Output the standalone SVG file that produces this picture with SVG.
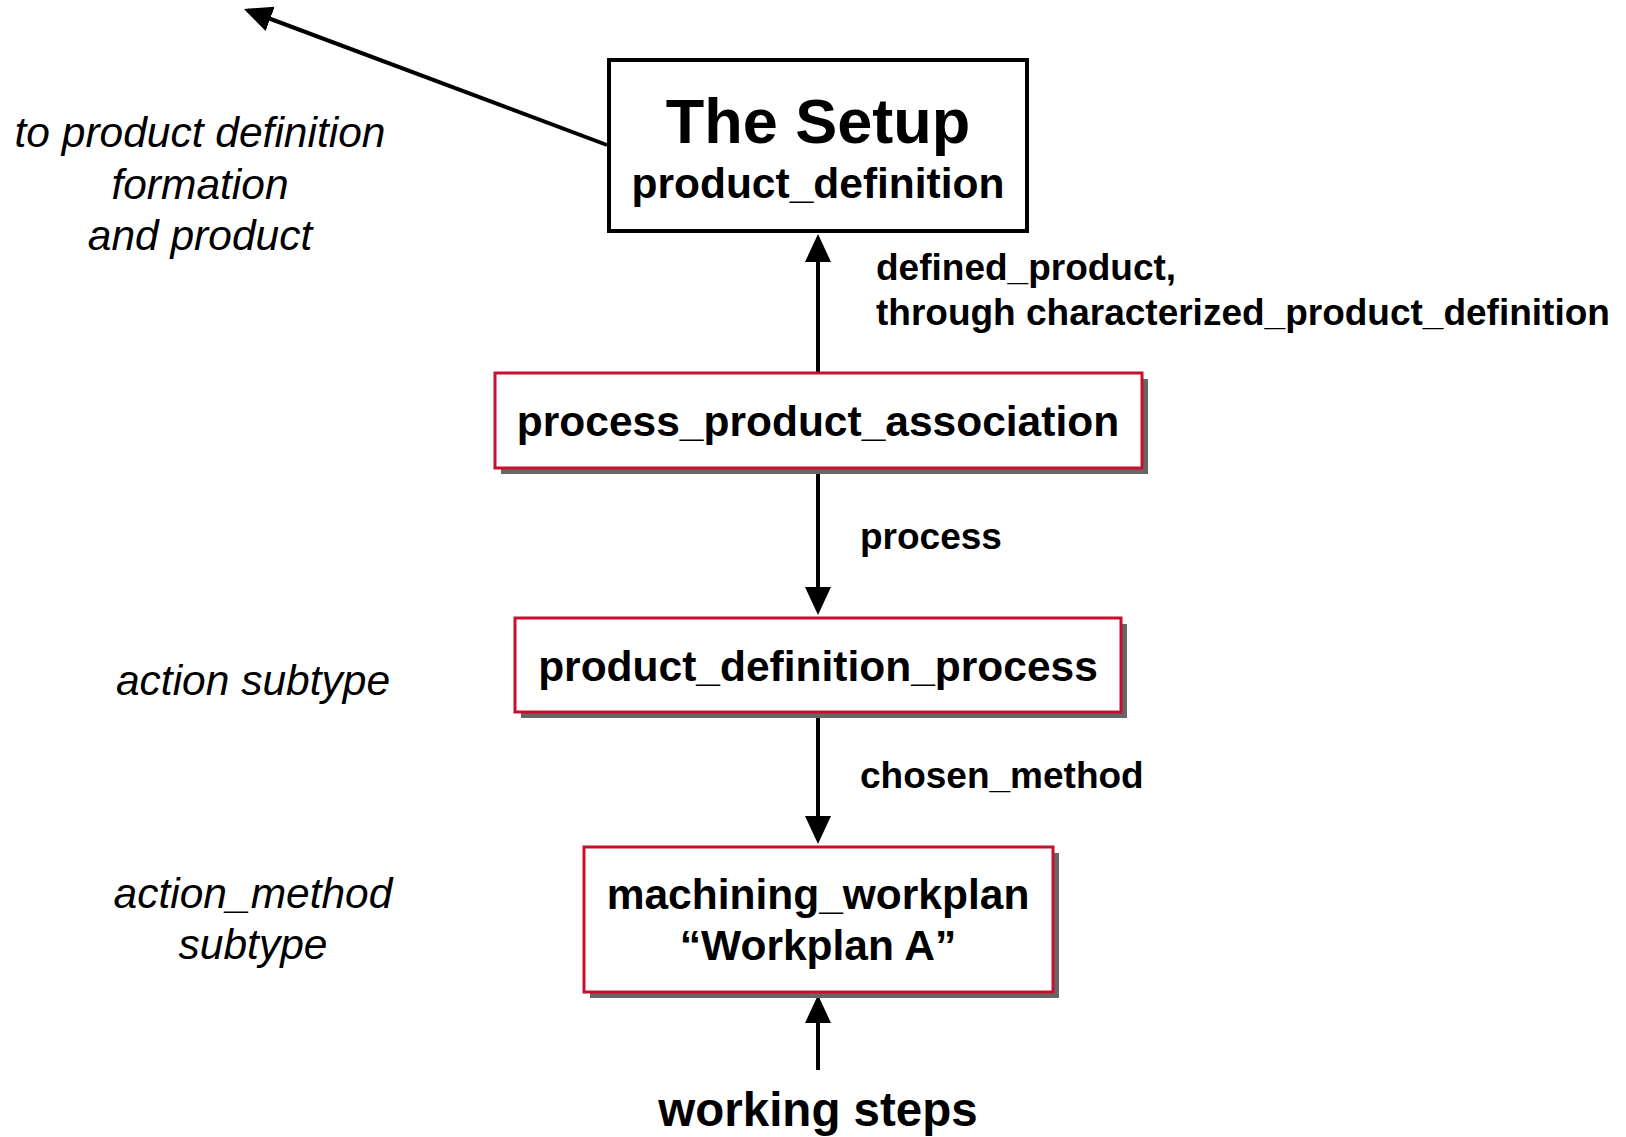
<svg xmlns="http://www.w3.org/2000/svg" width="1626" height="1137" viewBox="0 0 1626 1137">
  <style>
    .bold { font-family: "Liberation Sans", Arial, sans-serif; font-weight: bold; fill: #000; }
    .ital { font-family: "Liberation Sans", Arial, sans-serif; font-style: italic; fill: #000; font-size: 42.5px; }
    .entity { fill: #fff; stroke: #c8102e; stroke-width: 3; }
    .shadow { fill: #666; }
    .conn { stroke: #000; stroke-width: 4; fill: none; marker-end: url(#head); }
  </style>
  <defs>
    <marker id="head" markerUnits="userSpaceOnUse" markerWidth="30" markerHeight="28" refX="24" refY="13" orient="auto">
      <path d="M0,0 L28,13 L0,26 z" fill="#000"/>
    </marker>
  </defs>
  <rect width="1626" height="1137" fill="#fff"/>

  <!-- connectors -->
  <g id="connectors">
    <path class="conn" d="M607,145 L247.7,10.4"/>
    <path class="conn" d="M818,373 L818,238"/>
    <path class="conn" d="M818,468 L818,611"/>
    <path class="conn" d="M818,712 L818,840"/>
    <path class="conn" d="M818,1070 L818,999"/>
  </g>

  <!-- connector labels -->
  <g id="labels">
    <text class="bold" font-size="37" x="876" y="280">defined_product,</text>
    <text class="bold" font-size="37" x="876" y="325">through characterized_product_definition</text>
    <text class="bold" font-size="37" x="860" y="549">process</text>
    <text class="bold" font-size="37" x="860" y="788">chosen_method</text>
  </g>

  <!-- side notes -->
  <g id="notes" text-anchor="middle">
    <text class="ital" x="200" y="147">to product definition</text>
    <text class="ital" x="200" y="199">formation</text>
    <text class="ital" x="200" y="250">and product</text>
    <text class="ital" x="253" y="695">action subtype</text>
    <text class="ital" x="253" y="908">action_method</text>
    <text class="ital" x="253" y="959">subtype</text>
  </g>

  <g id="setup">
    <rect x="609" y="60" width="418" height="171" fill="#fff" stroke="#000" stroke-width="4"/>
    <text class="bold" font-size="63" x="818" y="143" text-anchor="middle">The Setup</text>
    <text class="bold" font-size="42.5" x="818" y="198" text-anchor="middle">product_definition</text>
  </g>

  <g id="process_product_association">
    <rect class="shadow" x="501" y="379" width="647" height="95"/>
    <rect class="entity" x="495" y="373" width="647" height="95"/>
    <text class="bold" font-size="42.5" x="818" y="436" text-anchor="middle">process_product_association</text>
  </g>

  <g id="product_definition_process">
    <rect class="shadow" x="521" y="624" width="606" height="94"/>
    <rect class="entity" x="515" y="618" width="606" height="94"/>
    <text class="bold" font-size="42.5" x="818" y="681" text-anchor="middle">product_definition_process</text>
  </g>

  <g id="machining_workplan">
    <rect class="shadow" x="590" y="853" width="469" height="145"/>
    <rect class="entity" x="584" y="847" width="469" height="145"/>
    <text class="bold" font-size="42.5" x="818" y="909" text-anchor="middle">machining_workplan</text>
    <text class="bold" font-size="42.5" x="818" y="960" text-anchor="middle">“Workplan A”</text>
  </g>

  <g id="working_steps">
    <text class="bold" font-size="47.5" x="818" y="1126" text-anchor="middle">working steps</text>
  </g>
</svg>
